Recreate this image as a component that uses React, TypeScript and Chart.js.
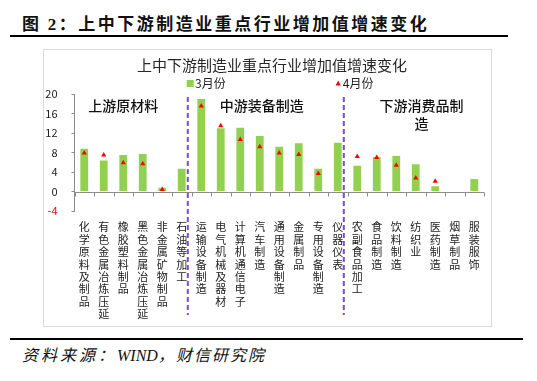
import React, { useEffect, useRef } from 'react';
import { Chart, registerables } from 'chart.js';

Chart.register(...registerables);

const categories = [
  '化学原料及制品', '有色金属冶炼压延', '橡胶塑料制品', '黑色金属冶炼压延', '非金属矿物制品', '石油等加工',
  '运输设备制造', '电气机械及器材', '计算机通信电子', '汽车制造', '通用设备制造', '金属制品', '专用设备制造', '仪器仪表',
  '农副食品加工', '食品制造', '饮料制造', '纺织业', '医药制造', '烟草制品', '服装服饰',
];
const march = [8.8, 6.4, 7.5, 7.7, 0.8, 4.7, 19.0, 13.0, 13.1, 11.4, 9.2, 9.9, 4.7, 10.0, 5.3, 7.1, 7.3, 5.6, 1.1, null, 2.6];
const april = [7.9, 7.5, 5.9, 5.7, 0.4, null, 17.6, 13.5, 10.7, 9.2, 7.9, 7.6, 3.7, null, 7.2, 7.0, 5.4, 2.8, 2.1, null, null];
const yTicks = [-4, 0, 4, 8, 12, 16, 20];
const seriesNames = ['3月份', '4月份'];
const groupSizes = [6, 8, 7];
const groupLabels = [['上游原材料'], ['中游装备制造'], ['下游消费品制', '造']];
const chartTitle = '上中下游制造业重点行业增加值增速变化';

const FONT = '"Noto Sans CJK SC", "Noto Sans", sans-serif';

const overlay = {
  id: 'overlay',
  afterDatasetsDraw(chart: any) {
    const { ctx, chartArea, scales } = chart;
    const x = scales.x;
    const y = scales.y;
    const y0 = Math.round(y.getPixelForValue(0)) + 0.5;
    const n = categories.length;
    const w = (chartArea.right - chartArea.left) / n;
    ctx.save();
    // zero axis line with tick marks at category boundaries
    ctx.strokeStyle = '#8c8c8c';
    ctx.lineWidth = 1;
    ctx.beginPath();
    ctx.moveTo(chartArea.left, y0);
    ctx.lineTo(chartArea.right, y0);
    for (let i = 0; i <= n; i++) {
      const bx = Math.round(chartArea.left + i * w) + 0.5;
      ctx.moveTo(bx, y0);
      ctx.lineTo(bx, y0 + 4);
    }
    ctx.stroke();

    // dashed group dividers
    ctx.strokeStyle = '#7A4FC2';
    ctx.lineWidth = 2;
    ctx.setLineDash([5, 3]);
    let acc = 0;
    for (let g = 0; g < groupSizes.length - 1; g++) {
      acc += groupSizes[g];
      const px = x.getPixelForValue(acc - 0.5) - 3.7;
      ctx.beginPath();
      ctx.moveTo(px, y.getPixelForValue(19.4));
      ctx.lineTo(px, chartArea.bottom + 104);
      ctx.stroke();
    }
    ctx.setLineDash([]);

    // group labels
    const gx = [2.0, 9.1, 17.3];
    ctx.fillStyle = '#111';
    ctx.font = `500 14px ${FONT}`;
    ctx.textAlign = 'center';
    ctx.textBaseline = 'middle';
    groupLabels.forEach((lines, gi) => {
      const cx = x.getPixelForValue(gx[gi]);
      const cy = y.getPixelForValue(17.6);
      lines.forEach((t, li) => ctx.fillText(t, cx, cy + li * 18));
    });
    ctx.restore();
  },
  afterDraw(chart: any) {
    const { ctx } = chart;
    ctx.save();
    // title
    ctx.fillStyle = '#262626';
    ctx.font = `15px ${FONT}`;
    ctx.textAlign = 'center';
    ctx.textBaseline = 'middle';
    ctx.fillText(chartTitle, 228, 15.5);
    // legend
    const ly = 33.5;
    ctx.font = `12px ${FONT}`;
    ctx.textAlign = 'left';
    ctx.fillStyle = '#92D050';
    ctx.fillRect(142.7, ly - 3.5, 7, 7);
    ctx.fillStyle = '#222';
    ctx.fillText(seriesNames[0], 151, ly);
    const tx = 294.2;
    ctx.fillStyle = '#FF0000';
    ctx.beginPath();
    ctx.moveTo(tx, ly - 3);
    ctx.lineTo(tx + 2.6, ly + 2);
    ctx.lineTo(tx - 2.6, ly + 2);
    ctx.closePath();
    ctx.fill();
    ctx.fillStyle = '#222';
    ctx.fillText(seriesNames[1], 298.8, ly);
    ctx.restore();
  },
};

export default function App() {
  const ref = useRef<HTMLCanvasElement | null>(null);

  useEffect(() => {
    if (!ref.current) return;
    const chart = new Chart(ref.current, {
      type: 'bar',
      data: {
        labels: categories,
        datasets: [
          {
            type: 'bar',
            label: seriesNames[0],
            data: march as any,
            backgroundColor: '#92D050',
            barPercentage: 0.4,
            categoryPercentage: 1,
            order: 2,
          },
          {
            type: 'line',
            label: seriesNames[1],
            data: april as any,
            showLine: false,
            pointStyle: 'triangle',
            pointRadius: 3,
            pointBackgroundColor: '#FF0000',
            pointBorderColor: '#FF0000',
            pointBorderWidth: 0,
            order: 1,
          } as any,
        ],
      },
      options: {
        responsive: false,
        animation: false,
        devicePixelRatio: 1,
        layout: { padding: { left: 0, right: 7, top: 44.2, bottom: 0 } },
        plugins: {
          legend: { display: false },
          tooltip: { enabled: false },
          title: { display: false },
        },
        scales: {
          x: {
            offset: true,
            grid: { display: false, drawTicks: false },
            border: { display: false },
            ticks: {
              autoSkip: false,
              maxRotation: 0,
              minRotation: 0,
              padding: 10,
              color: '#222',
              font: { family: FONT, size: 11, lineHeight: '12.4px' },
              callback: (_v: any, i: number) => Array.from(categories[i]),
            },
            afterFit: (s: any) => { s.height = 115; },
          },
          y: {
            min: yTicks[0],
            max: yTicks[yTicks.length - 1],
            afterBuildTicks: (s: any) => { s.ticks = yTicks.map((v) => ({ value: v })); },
            ticks: {
              padding: 14,
              font: { family: FONT, size: 11 },
              color: (c: any) => (c.tick && c.tick.value < 0 ? '#FF0000' : '#222'),
            },
            grid: { drawOnChartArea: false, drawTicks: true, tickLength: 3, color: '#8c8c8c' },
            border: { display: true, color: '#8c8c8c' },
            afterFit: (s: any) => { s.width = 30.5; },
          },
        },
      } as any,
      plugins: [overlay],
    });
    return () => chart.destroy();
  }, []);

  return (
    <div style={{ position: 'absolute', left: 0, top: 0, width: 537, height: 381, background: '#fff', overflow: 'hidden' }}>
      <div
        style={{
          position: 'absolute', left: 22, top: 12, fontFamily: FONT, fontSize: 17, lineHeight: '22px',
          fontWeight: 'bold', letterSpacing: '2.5px', color: '#111', whiteSpace: 'nowrap',
        }}
      >
        图 <span style={{ fontFamily: '"Liberation Serif", serif' }}>2</span>：上中下游制造业重点行业增加值增速变化
      </div>
      <div style={{ position: 'absolute', left: 10, top: 34.5, width: 498, height: 2.3, background: '#000' }} />
      <div
        style={{
          position: 'absolute', left: 43, top: 49, width: 449, height: 278, border: '1px solid #d9d9d9',
          boxSizing: 'border-box',
        }}
      >
        <canvas ref={ref} width={447} height={276} style={{ display: 'block', width: 447, height: 276 }} />
      </div>
      <div style={{ position: 'absolute', left: 10, top: 338, width: 513, height: 2, background: '#000' }} />
      <div
        style={{
          position: 'absolute', left: 22, top: 343.5, fontFamily: FONT, fontSize: 16, lineHeight: '20px',
          fontStyle: 'italic', color: '#111', whiteSpace: 'nowrap',
        }}
      >
        <span style={{ letterSpacing: '3px' }}>资料来源：</span>
        <span style={{ fontFamily: '"Liberation Serif", serif' }}>WIND</span>
        <span style={{ letterSpacing: '2px' }}>，财信研究院</span>
      </div>
    </div>
  );
}
